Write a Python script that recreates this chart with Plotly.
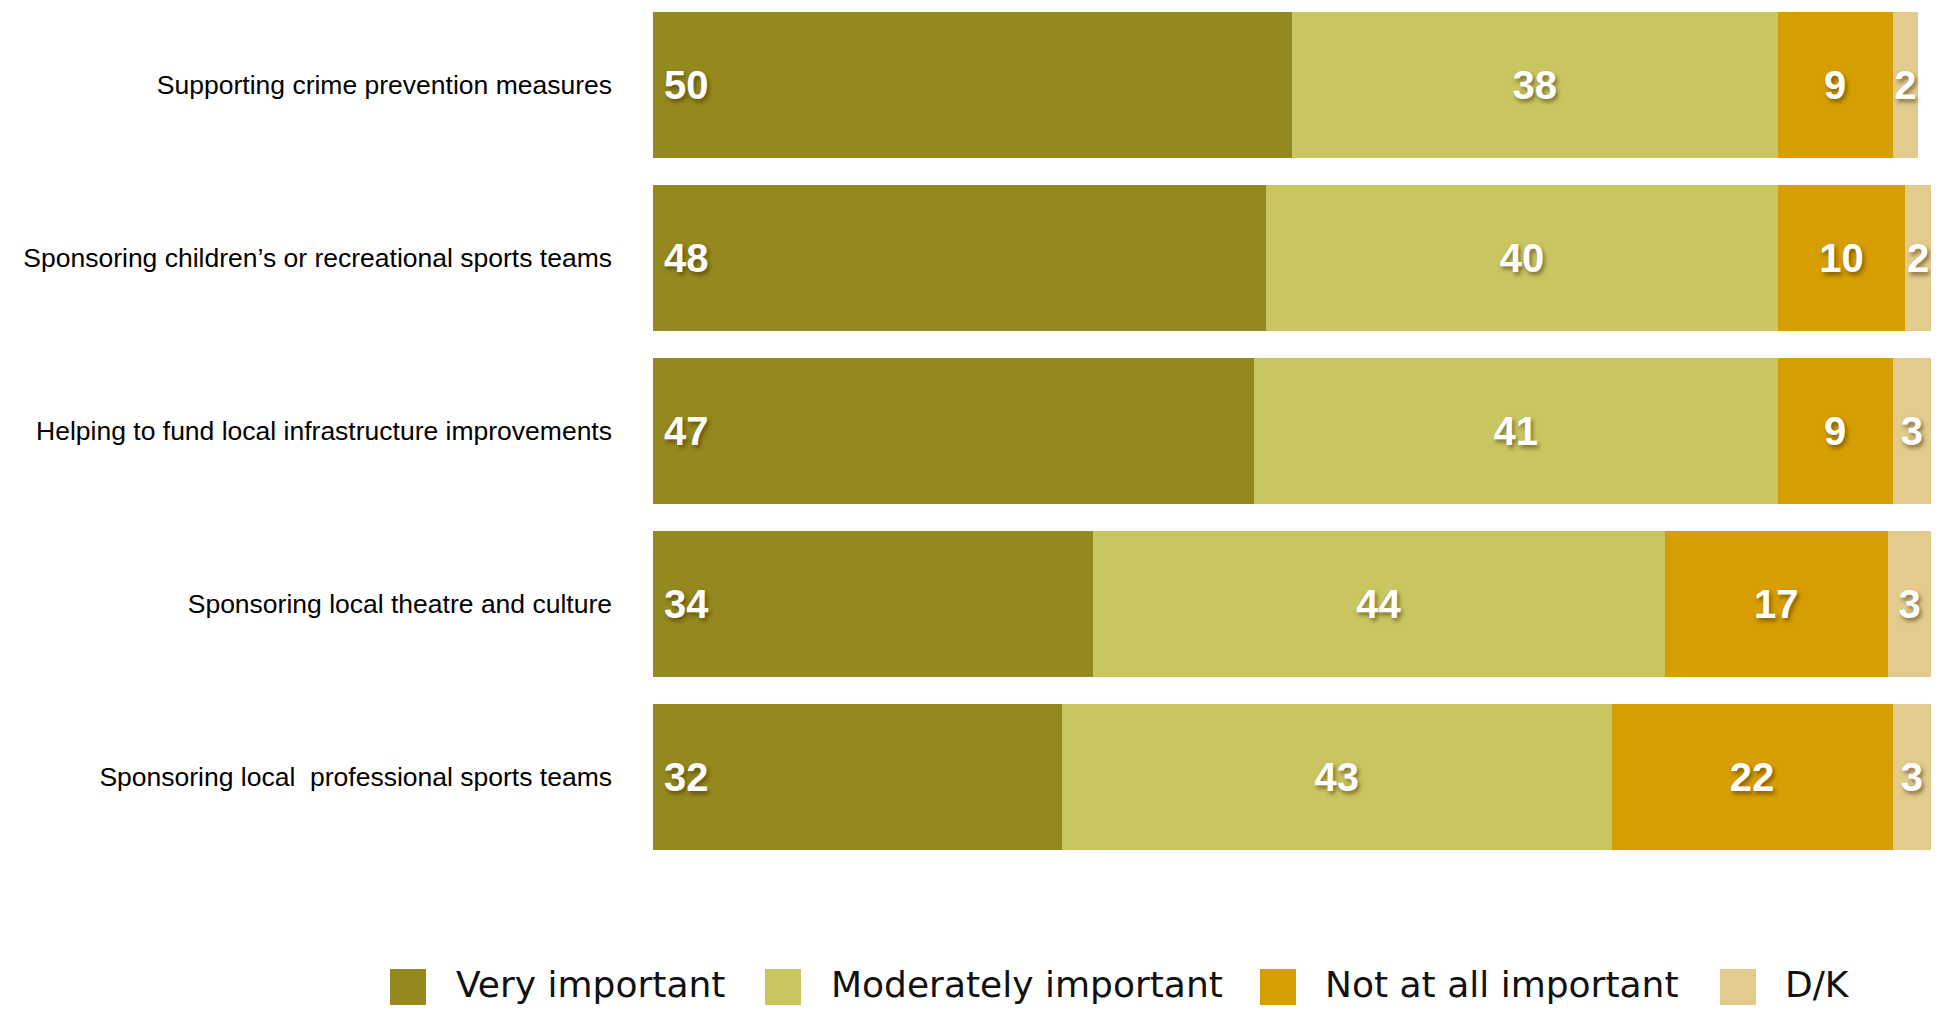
import plotly.graph_objects as go

# ---------------- data ----------------
categories = [
    "Supporting crime prevention measures",
    "Sponsoring children\u2019s or recreational sports teams",
    "Helping to fund local infrastructure improvements",
    "Sponsoring local theatre and culture",
    "Sponsoring local  professional sports teams",
]
series_names = ["Very important", "Moderately important", "Not at all important", "D/K"]

# bar lengths
very_important = [50, 48, 47, 34.45, 32]
moderately_important = [38, 40, 41, 44.7, 43]
not_at_all_important = [9, 10, 9, 17.5, 22]
dont_know = [2, 2, 3, 3.35, 3]

# printed labels
very_labels = [50, 48, 47, 34, 32]
moderately_labels = [38, 40, 41, 44, 43]
not_at_all_labels = [9, 10, 9, 17, 22]
dk_labels = [2, 2, 3, 3, 3]

colors = ["#94891E", "#C9C661", "#D69E00", "#E2CB8D"]

# ---------------- layout constants ----------------
# the page body has an 8px margin, so the figure is sized to fit the window
W, H = 1923, 1001
ML, MR, MT, MB = 645, 0, 0, 146
PW, PH = W - ML - MR, H - MT - MB
CAT_PITCH = 172.9            # vertical distance between bar centres
FIRST_CENTER = 77            # px from plot top to first bar centre

y_top = -FIRST_CENTER / CAT_PITCH
y_bottom = y_top + PH / CAT_PITCH

series_values = [very_important, moderately_important, not_at_all_important, dont_know]
series_labels = [very_labels, moderately_labels, not_at_all_labels, dk_labels]

fig = go.Figure()
for i, (name, vals, labs, col) in enumerate(zip(series_names, series_values, series_labels, colors)):
    prefix = "\u2009" if i == 0 else ""
    fig.add_trace(go.Bar(
        name=name,
        y=categories,
        x=vals,
        orientation="h",
        marker=dict(color=col, line=dict(width=0)),
        text=[f"{prefix}{v}" for v in labs],
        texttemplate="%{text}",
        textposition="inside",
        insidetextanchor="start" if i == 0 else "middle",
        constraintext="none",
        textangle=0,
        textfont=dict(family="Liberation Sans, Arial, sans-serif", size=40, color="white",
                      weight="bold", shadow="2px 3px 4px rgba(60,40,0,0.55)"),
        hoverinfo="skip",
        showlegend=False,
        cliponaxis=False,
    ))

# ---------------- manual legend (large square swatches) ----------------
def px_to_paper_x(px):
    return (px - ML) / PW

def py_to_paper_y(py):
    return (H - MB - py) / PH

legend_swatch_left = [382, 757, 1252, 1712]
legend_text_left = [446, 821, 1315, 1775]
SW = 36
legend_top, legend_bottom, legend_mid = 961, 997, 977

shapes = []
annotations = []
for name, col, sx, tx in zip(series_names, colors, legend_swatch_left, legend_text_left):
    shapes.append(dict(
        type="rect", xref="paper", yref="paper",
        x0=px_to_paper_x(sx), x1=px_to_paper_x(sx + SW),
        y0=py_to_paper_y(legend_bottom), y1=py_to_paper_y(legend_top),
        fillcolor=col, line=dict(width=0),
    ))
    annotations.append(dict(
        text=name, xref="paper", yref="paper",
        x=px_to_paper_x(tx), y=py_to_paper_y(legend_mid),
        xanchor="left", yanchor="middle", showarrow=False,
        font=dict(family="DejaVu Sans, sans-serif", size=36, color="#111111"),
    ))

fig.update_layout(
    width=W, height=H,
    margin=dict(l=ML, r=MR, t=MT, b=MB, pad=0),
    barmode="stack",
    bargap=0.155,
    plot_bgcolor="white",
    paper_bgcolor="white",
    shapes=shapes,
    annotations=annotations,
    xaxis=dict(range=[0, 100], visible=False, fixedrange=True),
    yaxis=dict(
        range=[y_bottom, y_top],
        showgrid=False, zeroline=False, showline=False, ticks="",
        ticklabelstandoff=40,
        tickfont=dict(family="Liberation Sans, Arial, sans-serif", size=26.5, color="black"),
    ),
)

fig.write_html("out.html")
